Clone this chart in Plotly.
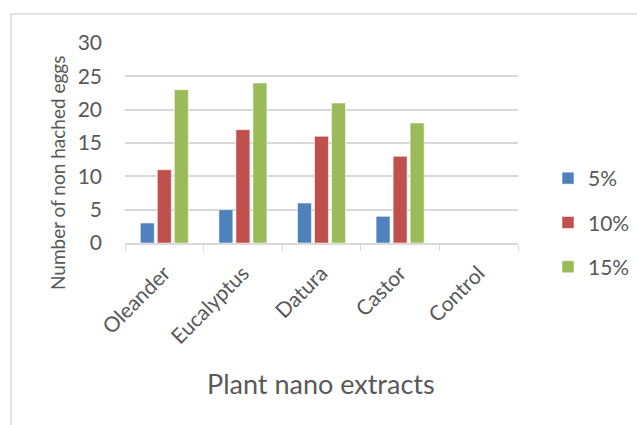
import plotly.graph_objects as go

# Plant extracts and the number of non-hatched eggs at each concentration
extracts = ["Oleander", "Eucalyptus", "Datura", "Castor", "Control"]
conc_5 = [3, 5, 6, 4, 0]
conc_10 = [11, 17, 16, 13, 0]
conc_15 = [23, 24, 21, 18, 0]
series_names = ["5%", "10%", "15%"]
y_ticks = [0, 5, 10, 15, 20, 25, 30]

colors = ["#4F81BD", "#C0504D", "#9BBB59"]
text_color = "#595959"
font_family = "Lato, Carlito, Calibri, sans-serif"

fig = go.Figure()
for i, (name, vals) in enumerate(zip(series_names, [conc_5, conc_10, conc_15])):
    fig.add_trace(go.Bar(
        x=extracts, y=vals, name=name,
        marker=dict(color=colors[i], line=dict(color="rgba(255,255,255,0.55)", width=1)),
        legendgroup=name,
    ))

# plot area geometry (pixels) used to place the free-floating titles
W, H = 637, 425
L, R, T, B = 125, 119, 43, 182
pw, ph = W - L - R, H - T - B

def px_x(x):
    return (x - L) / pw

def px_y(y):
    return (H - B - y) / ph

fig.update_layout(
    width=W, height=H,
    margin=dict(l=L, r=R, t=T, b=B, autoexpand=False),
    paper_bgcolor="white", plot_bgcolor="white",
    font=dict(family=font_family, color=text_color, size=21),
    barmode="group", bargap=0.35, bargroupgap=0.18,
    showlegend=True,
    legend=dict(
        x=px_x(548), y=px_y(158), xanchor="left", yanchor="top",
        font=dict(size=21, color=text_color),
        tracegroupgap=14, traceorder="grouped",
        bgcolor="rgba(0,0,0,0)",
    ),
    xaxis=dict(
        showgrid=False, showline=True, linecolor="#D9D9D9", linewidth=1.5,
        ticks="outside", tickson="boundaries", ticklen=6, tickcolor="#D9D9D9",
        tickangle=-45, tickfont=dict(size=21, color=text_color),
        ticklabelstandoff=8, automargin=False,
    ),
    yaxis=dict(
        range=[0, 30], tickvals=y_ticks, showgrid=True, gridcolor="#D9D9D9",
        gridwidth=1.5, zeroline=False, showline=False, automargin=False,
        ticklabelstandoff=22, tickfont=dict(size=21, color=text_color),
    ),
    annotations=[
        dict(text="Number of non hached eggs", x=px_x(57), y=px_y(173),
             xref="paper", yref="paper", xanchor="center", yanchor="middle",
             textangle=-90, showarrow=False,
             font=dict(size=19, color=text_color)),
        dict(text="Plant nano extracts", x=px_x(321), y=px_y(383),
             xref="paper", yref="paper", xanchor="center", yanchor="middle",
             showarrow=False, font=dict(size=27, color=text_color)),
    ],
    shapes=[
        dict(type="rect", xref="paper", yref="paper",
             x0=px_x(11), x1=px_x(660), y0=px_y(440), y1=px_y(14),
             line=dict(color="#D9D9D9", width=1.5), layer="below"),
    ],
)

fig.write_html("out.html")
